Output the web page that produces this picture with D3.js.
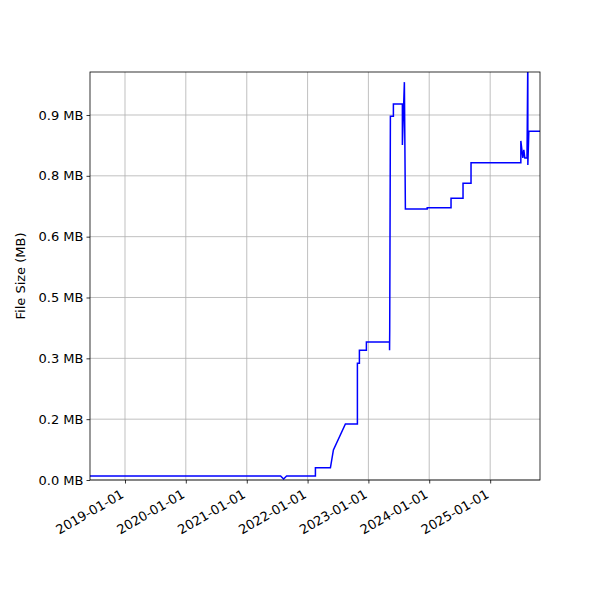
<!DOCTYPE html>
<html><head><meta charset="utf-8">
<script src="https://cdn.jsdelivr.net/npm/d3@7"></script>
<style>body{margin:0;background:#fff}text{font-family:"DejaVu Sans",sans-serif}</style>
</head><body><div id="chart"></div>
<script>
const dates = ["2018-06-05","2021-07-23","2021-08-10","2021-08-28","2022-02-17","2022-02-17","2022-05-18","2022-06-05","2022-08-16","2022-10-27","2022-10-27","2022-11-08","2022-11-08","2022-12-20","2022-12-20","2023-05-08","2023-05-08","2023-05-09","2023-05-13","2023-05-31","2023-05-31","2023-07-24","2023-07-24","2023-08-05","2023-08-11","2023-12-20","2023-12-20","2024-05-11","2024-05-11","2024-07-22","2024-07-22","2024-09-08","2024-09-08","2025-07-04","2025-07-04","2025-07-16","2025-07-22","2025-07-28","2025-08-10","2025-08-15","2025-08-15","2025-08-21","2025-10-27"];
const sizes = [0.0099,0.0099,0.0025,0.0099,0.0099,0.030,0.030,0.074,0.138,0.138,0.288,0.288,0.320,0.320,0.340,0.340,0.320,0.370,0.897,0.897,0.927,0.927,0.826,0.981,0.668,0.668,0.671,0.671,0.695,0.695,0.732,0.732,0.782,0.782,0.836,0.794,0.814,0.794,0.794,1.05,0.777,0.860,0.860];
const yTicks = [0,0.15,0.3,0.45,0.6,0.75,0.9];
const yTickLabels = ["0.0 MB","0.2 MB","0.3 MB","0.5 MB","0.6 MB","0.8 MB","0.9 MB"];
const xTicks = ["2019-01-01","2020-01-01","2021-01-01","2022-01-01","2023-01-01","2024-01-01","2025-01-01"];

const parse = d3.timeParse("%Y-%m-%d");
const data = dates.map((d, i) => ({date: parse(d), v: sizes[i]}));
const margin = {left: 90, right: 60, top: 72, bottom: 120};
const width = 600, height = 600;

const svg = d3.select("#chart").append("svg").attr("width", width).attr("height", height);

const x = d3.scaleTime()
    .domain([parse("2018-06-05"), parse("2025-10-27")])
    .range([margin.left, width - margin.right]);
const y = d3.scaleLinear().domain([0, 1.006]).range([height - margin.bottom, margin.top]);

// grid
svg.append("g").selectAll("line").data(xTicks).join("line")
    .attr("x1", d => x(parse(d))).attr("x2", d => x(parse(d)))
    .attr("y1", margin.top).attr("y2", height - margin.bottom)
    .attr("stroke", "#b0b0b0").attr("stroke-width", 0.8);
svg.append("g").selectAll("line").data(yTicks).join("line")
    .attr("x1", margin.left).attr("x2", width - margin.right)
    .attr("y1", d => y(d)).attr("y2", d => y(d))
    .attr("stroke", "#b0b0b0").attr("stroke-width", 0.8);

svg.append("clipPath").attr("id", "clip").append("rect")
    .attr("x", margin.left).attr("y", margin.top)
    .attr("width", width - margin.left - margin.right)
    .attr("height", height - margin.top - margin.bottom);

const line = d3.line().x(d => x(d.date)).y(d => y(d.v));
svg.append("path").datum(data).attr("d", line)
    .attr("clip-path", "url(#clip)")
    .attr("fill", "none").attr("stroke", "blue").attr("stroke-width", 1.5);

// axes
const xAxis = svg.append("g").attr("transform", `translate(0,${height - margin.bottom})`)
    .call(d3.axisBottom(x).tickValues(xTicks.map(parse)).tickFormat(d3.timeFormat("%Y-%m-%d")).tickSizeOuter(0).tickSize(3.5));
xAxis.selectAll("text").attr("font-size", 13).attr("text-anchor", "end")
    .attr("transform", "rotate(-30)").attr("dx", "-0.7em").attr("dy", "0.6em");

const yAxis = svg.append("g").attr("transform", `translate(${margin.left},0)`)
    .call(d3.axisLeft(y).tickValues(yTicks).tickFormat((d, i) => yTickLabels[i]).tickSizeOuter(0).tickSize(3.5));
yAxis.selectAll("text").attr("font-size", 13);
svg.selectAll(".domain").remove();
svg.selectAll(".tick line").attr("stroke", "#000").attr("stroke-width", 0.8);
svg.selectAll(".tick text").attr("fill", "#000");

svg.append("rect").attr("x", margin.left).attr("y", margin.top)
    .attr("width", width - margin.left - margin.right)
    .attr("height", height - margin.top - margin.bottom)
    .attr("fill", "none").attr("stroke", "#000").attr("stroke-width", 0.8);

svg.append("text").attr("transform", `translate(25,${(margin.top + height - margin.bottom) / 2}) rotate(-90)`)
    .attr("text-anchor", "middle").attr("font-size", 13).text("File Size (MB)");
</script></body></html>
